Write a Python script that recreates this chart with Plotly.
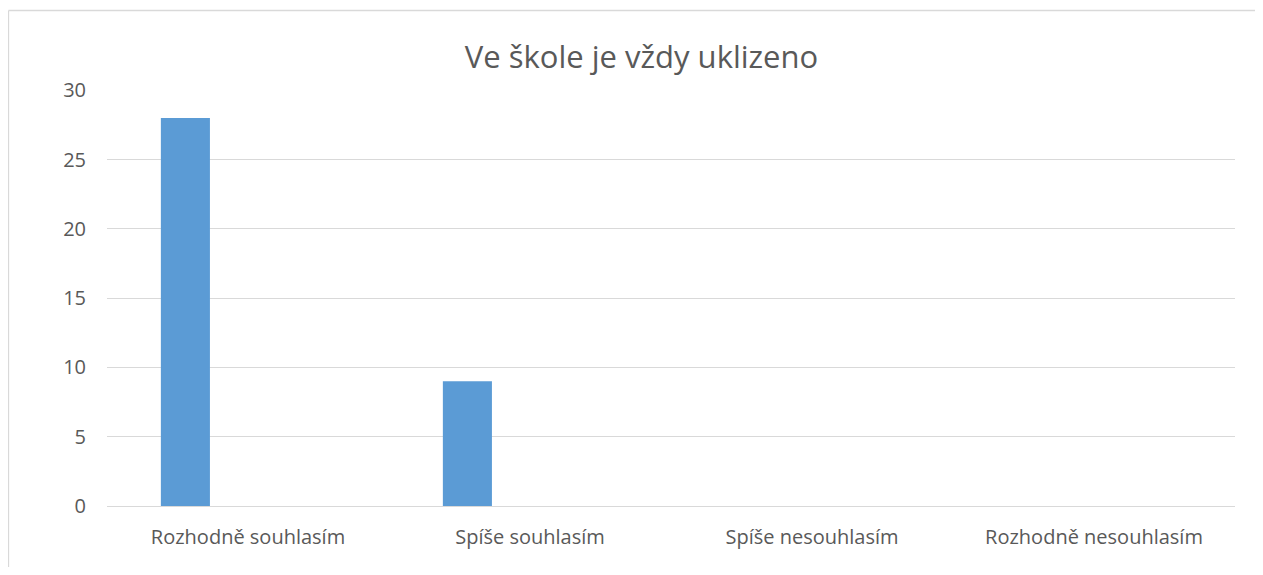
import plotly.graph_objects as go

categories = ["Rozhodně souhlasím", "Spíše souhlasím", "Spíše nesouhlasím", "Rozhodně nesouhlasím"]
values = [28, 9, 0, 0]
y_ticks = [0, 5, 10, 15, 20, 25, 30]
title = "Ve škole je vždy uklizeno"

# page body has an 8px margin; figure sized to fit inside the 1263x575 window
W, H = 1247, 559
L, R, T, B = 99, 20, 82, 61
pw, ph = W - L - R, H - T - B

fig = go.Figure()
fig.add_trace(go.Bar(
    x=categories, y=values,
    marker=dict(color="#5B9BD5", line=dict(width=0)),
    width=0.174, offset=-0.309,
    hoverinfo="x+y",
))

font_family = "Open Sans"
bx = (0.5 - L) / pw
by = 1 + (T - 2.5) / ph
fig.update_layout(
    width=W, height=H,
    margin=dict(l=L, r=R, t=T, b=B, autoexpand=False),
    paper_bgcolor="white", plot_bgcolor="white",
    showlegend=False,
    title=dict(text=title, x=(633.5 - L) / pw, xref="paper", xanchor="center",
               y=1 - 49 / H, yanchor="middle",
               font=dict(family=font_family, size=31, color="#595959")),
    xaxis=dict(showgrid=False, showline=False, zeroline=False, ticks="",
               tickfont=dict(family=font_family, size=20, color="#595959"),
               ticklabelstandoff=17, range=[-0.5, 3.5]),
    yaxis=dict(range=[0, 30.03], tickvals=y_ticks, showgrid=True, gridcolor="#D9D9D9",
               gridwidth=1.3, zeroline=True, zerolinecolor="#D9D9D9", zerolinewidth=1.3,
               showline=False, ticks="",
               tickfont=dict(family=font_family, size=20, color="#595959"),
               ticklabelstandoff=20),
    shapes=[
        dict(type="line", xref="paper", yref="paper", x0=bx, x1=bx,
             y0=by, y1=-(H + 20 - T - ph) / ph,
             line=dict(color="#D9D9D9", width=1.3), layer="below"),
        dict(type="line", xref="paper", yref="paper", x0=bx, x1=(W + 20 - L) / pw,
             y0=by, y1=by,
             line=dict(color="#D9D9D9", width=1.3), layer="below"),
    ],
)

fig.write_html("out.html")
